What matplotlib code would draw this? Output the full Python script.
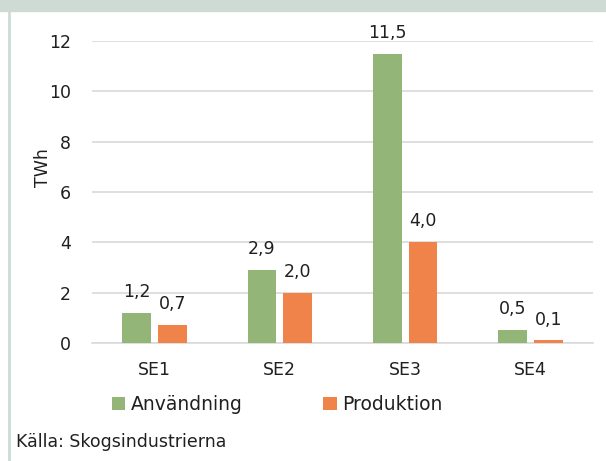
import numpy as np
import matplotlib
matplotlib.use("Agg")
import matplotlib.pyplot as plt
from matplotlib.patches import Rectangle
from matplotlib.lines import Line2D

plt.rcParams['font.family'] = ['DejaVu Sans']

regioner = ['SE1', 'SE2', 'SE3', 'SE4']
anvandning = [1.2, 2.9, 11.5, 0.5]
produktion = [0.7, 2.0, 4.0, 0.1]
serier = ['Användning', 'Produktion']
farger = ['#93b577', '#f0834a']
yticks = [0, 2, 4, 6, 8, 10, 12]
textfarg = '#202020'

fig = plt.figure(figsize=(6.06, 4.61), dpi=100)

# rubrikband och vänsterkant
fig.patches.append(Rectangle((0, 1 - 11 / 461), 1, 11 / 461,
                             transform=fig.transFigure, color='#cddbd4', zorder=0))
fig.lines.append(Line2D([8.5 / 606, 8.5 / 606], [0, 1 - 11 / 461],
                        transform=fig.transFigure, color='#cddbd4', lw=2))

ax = fig.add_axes([92 / 606, 1 - 343 / 461, 501 / 606, 302 / 461])

x = np.arange(len(regioner))
bredd = 0.23
staplar1 = ax.bar(x - 0.143, anvandning, bredd, color=farger[0], label=serier[0], zorder=3)
staplar2 = ax.bar(x + 0.143, produktion, bredd, color=farger[1], label=serier[1], zorder=3)

for staplar, varden in [(staplar1, anvandning), (staplar2, produktion)]:
    for s, v in zip(staplar, varden):
        ax.annotate(f"{v:.1f}".replace('.', ','),
                    (s.get_x() + s.get_width() / 2, v),
                    xytext=(0, 11.5), textcoords='offset points',
                    ha='center', va='baseline', fontsize=12.5, color=textfarg)

ax.set_xlim(-0.5, 3.5)
ax.set_ylim(0, 12)
ax.set_yticks(yticks)
ax.set_xticks(x)
ax.set_xticklabels(regioner)
ax.tick_params(axis='both', length=0, labelsize=12.5, colors=textfarg)
ax.tick_params(axis='y', pad=15)
ax.tick_params(axis='x', pad=13)
ax.grid(axis='y', color='#d9d9d9', lw=1.2, zorder=0)
for side in ['top', 'right', 'left']:
    ax.spines[side].set_visible(False)
ax.spines['bottom'].set_color('#d9d9d9')
ax.spines['bottom'].set_linewidth(1.2)

ax.set_ylabel('TWh', fontsize=12.5, color=textfarg)
ax.yaxis.set_label_coords(-0.08, 0.58)

ax.legend(loc='center', bbox_to_anchor=(0.37, -0.205), ncol=2, frameon=False,
          fontsize=13.5, handlelength=0.7, handleheight=0.7, handletextpad=0.3,
          columnspacing=4.3, labelcolor=textfarg)

fig.text(16 / 606, 1 - 442 / 461, 'Källa: Skogsindustrierna', fontsize=12.5,
         color=textfarg, va='center', ha='left')

fig.savefig('out.png', dpi=100)
